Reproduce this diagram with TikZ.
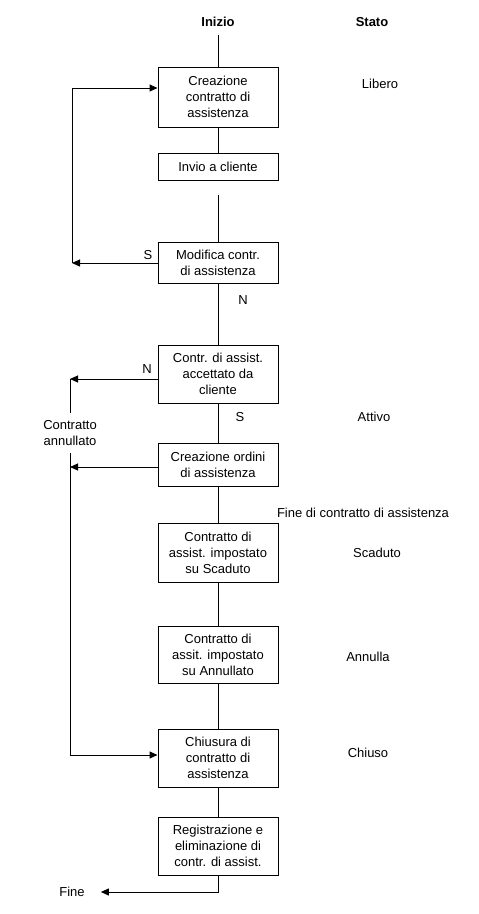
\documentclass[tikz,border=0pt]{standalone}
\usepackage{fontspec}
\setmainfont{Liberation Sans}
\usepackage{tikz}
\usetikzlibrary{arrows.meta, positioning, calc}
\tikzset{
  sbox/.style={draw=black, fill=white, line width=1pt, minimum width=120pt,
               align=center, inner sep=2pt, font=\fontsize{13}{16}\selectfont},
  lbl/.style={font=\fontsize{13}{16}\selectfont, inner sep=3pt, align=center},
  head/.style={font=\fontsize{13}{16}\selectfont\bfseries, inner sep=2pt},
  ln/.style={line width=1pt, black},
  arr/.style={-{Triangle[length=8pt,width=7pt]}, line width=1pt, black},
}

\begin{document}
\begin{tikzpicture}[x=1pt, y=-1pt]
  \fill[white] (0,0) rectangle (479,914);
  \useasboundingbox (0,0) rectangle (479,914);

  % headers
  \node[head] (inizio) at (218,22) {Inizio};
  \node[head] (stato) at (372,22) {Stato};

  % main column
  \node[sbox, minimum height=60pt] (crea) at (218,97)
    {Creazione\\contratto di\\assistenza};
  \node[sbox, minimum height=27pt] (invio) at (218,166.5) {Invio a cliente};
  \node[sbox, minimum height=41pt] (modif) at (218,262.5)
    {Modifica contr.\\di assistenza};
  \node[sbox, minimum height=58pt] (accet) at (218,374)
    {Contr. di assist.\\accettato da\\cliente};
  \node[sbox, minimum height=43pt] (ordini) at (218,464.5)
    {Creazione ordini\\di assistenza};
  \node[sbox, minimum height=59pt] (scad) at (218,552.5)
    {Contratto di\\assist. impostato\\su Scaduto};
  \node[sbox, minimum height=57pt] (annul) at (218,654.5)
    {Contratto di\\assit. impostato\\su Annullato};
  \node[sbox, minimum height=58pt] (chius) at (218,758)
    {Chiusura di\\contratto di\\assistenza};
  \node[sbox, minimum height=58pt] (regis) at (218,846)
    {Registrazione e\\eliminazione di\\contr. di assist.};

  % states
  \node[lbl] (libero) at (380,84) {Libero};
  \node[lbl] (attivo) at (374,417) {Attivo};
  \node[lbl] (finec) at (363,513) {Fine di contratto di assistenza};
  \node[lbl] (scaduto) at (377,553) {Scaduto};
  \node[lbl] (annulla) at (368,657) {Annulla};
  \node[lbl] (chiuso) at (368,753) {Chiuso};

  % side labels
  \node[lbl, inner ysep=7pt] (ann) at (70,433) {Contratto\\annullato};
  \node[lbl] (fine) at (72,892) {Fine};
  \node[lbl] at (148,255) {S};
  \node[lbl] at (243,300) {N};
  \node[lbl] at (147,369) {N};
  \node[lbl] at (240,417) {S};

  \coordinate (top) at (218,35);
  \coordinate (gap) at (218,195);
  \coordinate (lp) at (72,263);
  \coordinate (np) at (70,379);
  \coordinate (op) at (70,467);

  % connectors
  \draw[ln] (top) -- (crea);
  \draw[ln] (crea) -- (invio);
  \draw[ln] (gap) -- (modif);
  \draw[ln] (modif) -- (accet);
  \draw[ln] (accet) -- (ordini);
  \draw[ln] (ordini) -- (scad);
  \draw[ln] (scad) -- (annul);
  \draw[ln] (annul) -- (chius);
  \draw[ln] (chius) -- (regis);
  \draw[arr] (modif.west |- lp) -- (lp);
  \draw[arr] (lp) |- ([yshift=9pt]crea.west);
  \draw[arr] (accet.west |- np) -- (np);
  \draw[arr] (ordini.west |- op) -- (op);
  \draw[ln] (np) -- (ann);
  \draw[arr] (ann) |- ([yshift=3pt]chius.west);
  \draw[arr] (regis.south) |- ([xshift=13pt]fine.east);
\end{tikzpicture}
\end{document}
